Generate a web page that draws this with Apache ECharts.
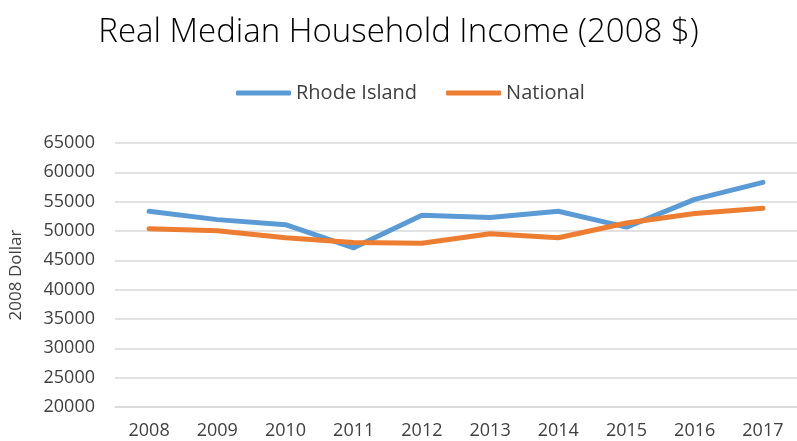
<!DOCTYPE html>
<html>
<head>
<meta charset="utf-8">
<script src="https://cdn.jsdelivr.net/npm/echarts@6/dist/echarts.min.js"></script>
<style>
  html, body { margin: 0; padding: 0; background: #fff; }
  #chart { width: 797px; height: 441px; }
</style>
</head>
<body>
<div id="chart"></div>
<script>
// values
const years = ['2008', '2009', '2010', '2011', '2012', '2013', '2014', '2015', '2016', '2017'];
const rhodeIsland = [53370, 51940, 51080, 47130, 52680, 52290, 53370, 50670, 55380, 58300];
const national = [50400, 50050, 48850, 48040, 47920, 49540, 48850, 51360, 52970, 53880];

const font = '"Open Sans", sans-serif';

let chart = echarts.init(document.getElementById('chart'));

let option = {
    animation: false,
    title: {
        text: 'Real Median Household Income (2008 $)',
        left: 'center',
        top: 11,
        textStyle: { fontFamily: font, fontWeight: 300, fontSize: 33, color: '#000' }
    },
    legend: {
        left: 231,
        top: 78,
        icon: 'roundRect',
        itemWidth: 55,
        itemHeight: 5,
        itemGap: 29,
        textStyle: { fontFamily: font, fontSize: 20, color: '#404040' },
        data: ['Rhode Island', 'National']
    },
    grid: {
        left: 112,
        right: -8,
        top: 143,
        bottom: 34,
        containLabel: false
    },
    xAxis: {
        type: 'category',
        data: years,
        boundaryGap: true,
        axisLine: { lineStyle: { color: '#d9d9d9', width: 1.5 } },
        axisTick: { length: 6, lineStyle: { color: '#d9d9d9', width: 1.5 } },
        axisLabel: { fontFamily: font, fontSize: 18, color: '#404040', margin: 15 }
    },
    yAxis: {
        type: 'value',
        min: 20000,
        max: 65000,
        interval: 5000,
        name: '2008 Dollar',
        nameLocation: 'middle',
        nameGap: 90,
        nameTextStyle: { fontFamily: font, fontSize: 17, color: '#404040' },
        axisLine: { show: false },
        axisTick: { show: false },
        axisLabel: {
            fontFamily: font, fontSize: 18, color: '#404040', margin: 20,
            formatter: (v) => String(v)
        },
        splitLine: { lineStyle: { color: '#d9d9d9', width: 1.5 } }
    },
    series: [
        {
            name: 'Rhode Island',
            type: 'line',
            data: rhodeIsland,
            symbol: 'none',
            lineStyle: { width: 5, color: '#5b9bd5', cap: 'round', join: 'round' },
            itemStyle: { color: '#5b9bd5' }
        },
        {
            name: 'National',
            type: 'line',
            data: national,
            symbol: 'none',
            lineStyle: { width: 5, color: '#ed7d31', cap: 'round', join: 'round' },
            itemStyle: { color: '#ed7d31' }
        }
    ]
};

option && chart.setOption(option);
</script>
</body>
</html>
